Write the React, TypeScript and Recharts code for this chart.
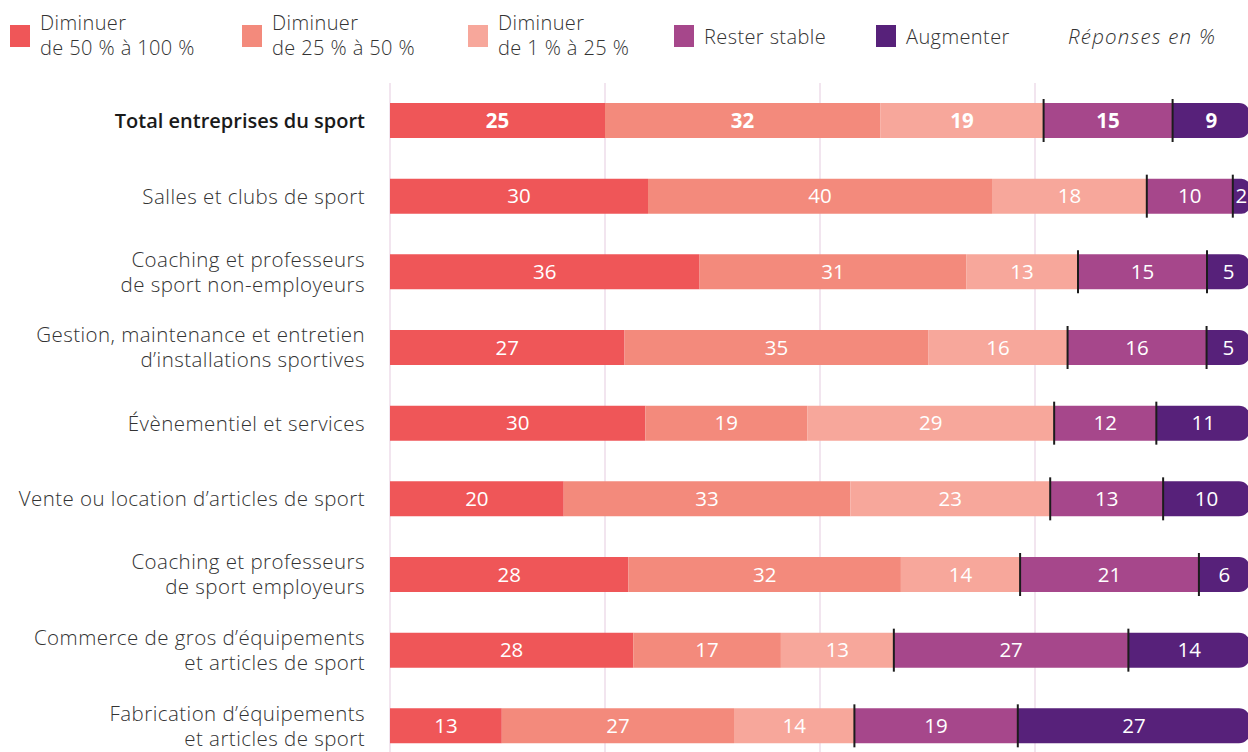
import React from 'react';
import { BarChart, Bar, XAxis, YAxis, CartesianGrid, LabelList, Rectangle } from 'recharts';

const categories = [
  'Total entreprises du sport',
  'Salles et clubs de sport',
  'Coaching et professeurs\nde sport non-employeurs',
  'Gestion, maintenance et entretien\nd’installations sportives',
  'Évènementiel et services',
  'Vente ou location d’articles de sport',
  'Coaching et professeurs\nde sport employeurs',
  'Commerce de gros d’équipements\net articles de sport',
  'Fabrication d’équipements\net articles de sport',
];
const dim50to100 = [25, 30, 36, 27, 30, 20, 28, 28, 13];
const dim25to50 = [32, 40, 31, 35, 19, 33, 32, 17, 27];
const dim1to25 = [19, 18, 13, 16, 29, 23, 14, 13, 14];
const resterStable = [15, 10, 15, 16, 12, 13, 21, 27, 19];
const augmenter = [9, 2, 5, 5, 11, 10, 6, 14, 27];

const seriesKeys = ['d50', 'd25', 'd1', 'stable', 'aug'];
const seriesLabels = [
  ['Diminuer', 'de 50 % à 100 %'],
  ['Diminuer', 'de 25 % à 50 %'],
  ['Diminuer', 'de 1 % à 25 %'],
  ['Rester stable'],
  ['Augmenter'],
];
const colors = ['#EF5658', '#F38A7C', '#F7A79B', '#A6478B', '#57217A'];
const xTicks = [0, 0.25, 0.5, 0.75, 1];
const noteText = 'Réponses en %';

const data = categories.map((c, i) => ({
  name: c,
  d50: dim50to100[i],
  d25: dim25to50[i],
  d1: dim1to25[i],
  stable: resterStable[i],
  aug: augmenter[i],
}));

const FONT = '"Open Sans", Lato, sans-serif';

const YTick = (props: any) => {
  const { x, y, payload, index } = props;
  const lines = String(payload.value).split('\n');
  const lh = 25;
  const first = index === 0 || payload.index === 0;
  return (
    <text
      textAnchor="end"
      fontSize={first ? 20 : 20.5}
      letterSpacing={first ? 0 : 0.45}
      fontFamily={FONT}
      fill={first ? '#1a1a1a' : '#333333'}
      fontWeight={first ? 600 : 300}
    >
      {lines.map((l, i) => (
        <tspan key={i} x={x} y={y + (i - (lines.length - 1) / 2) * lh + 7}>
          {l}
        </tspan>
      ))}
    </text>
  );
};

const makeShape = (divider: boolean, rounded: boolean) => (props: any) => {
  const { x, y, width, height, fill } = props;
  return (
    <g>
      <Rectangle x={x} y={y} width={width} height={height} fill={fill} radius={rounded ? [0, 11, 11, 0] : 0} />
      {divider && (
        <line x1={x} x2={x} y1={y - 4} y2={y + height + 4} stroke="#1c1c1c" strokeWidth={2} />
      )}
    </g>
  );
};

const renderLabel = (props: any) => {
  const { x, y, width, height, value, index } = props;
  return (
    <text
      x={x + width / 2}
      y={y + height / 2 + 7}
      textAnchor="middle"
      fill="#ffffff"
      fontSize={20.5}
      fontFamily={FONT}
      fontWeight={index === 0 ? 700 : 400}
    >
      {value}
    </text>
  );
};

const legendPos = [10, 242, 468, 674, 876];

export default function App() {
  return (
    <div style={{ position: 'fixed', top: 0, left: 0, width: 1248, height: 752, overflow: 'hidden', background: '#fff' }}>
      {seriesLabels.map((lines, i) => (
        <div key={i} style={{ position: 'absolute', left: legendPos[i], top: 25 }}>
          <div style={{ position: 'absolute', left: 0, top: 0, width: 20, height: 22, background: colors[i] }} />
          <div
            style={{
              position: 'absolute',
              left: 30,
              top: lines.length > 1 ? -15 : -1,
              fontFamily: FONT,
              fontSize: 20,
              fontWeight: 300,
              letterSpacing: 0.4,
              lineHeight: '25px',
              color: '#333',
              whiteSpace: 'nowrap',
            }}
          >
            {lines.map((l, j) => (
              <div key={j}>{l}</div>
            ))}
          </div>
        </div>
      ))}
      <div
        style={{
          position: 'absolute',
          left: 1068,
          top: 24,
          fontFamily: FONT,
          fontStyle: 'italic',
          fontWeight: 300,
          fontSize: 20.5,
          letterSpacing: 1.2,
          lineHeight: '25px',
          color: '#333',
          whiteSpace: 'nowrap',
        }}
      >
        {noteText}
      </div>
      <div style={{ position: 'absolute', left: 0, top: 0 }}>
        <BarChart
          width={1252}
          height={780}
          data={data}
          layout="vertical"
          stackOffset="expand"
          barSize={35}
          margin={{ top: 83, right: 2, bottom: 16, left: 0 }}
        >
          <CartesianGrid horizontal={false} vertical={true} stroke="#EEDCEA" strokeWidth={1.5} />
          <XAxis type="number" domain={[0, 1]} ticks={xTicks} hide />
          <YAxis
            type="category"
            dataKey="name"
            width={390}
            axisLine={false}
            tickLine={false}
            tickSize={0}
            tickMargin={25}
            interval={0}
            tick={<YTick />}
          />
          {seriesKeys.map((k, i) => (
            <Bar
              key={k}
              dataKey={k}
              stackId="a"
              fill={colors[i]}
              isAnimationActive={false}
              shape={makeShape(i >= 3, i === 4)}
            >
              <LabelList dataKey={k} content={renderLabel} />
            </Bar>
          ))}
        </BarChart>
      </div>
    </div>
  );
}
